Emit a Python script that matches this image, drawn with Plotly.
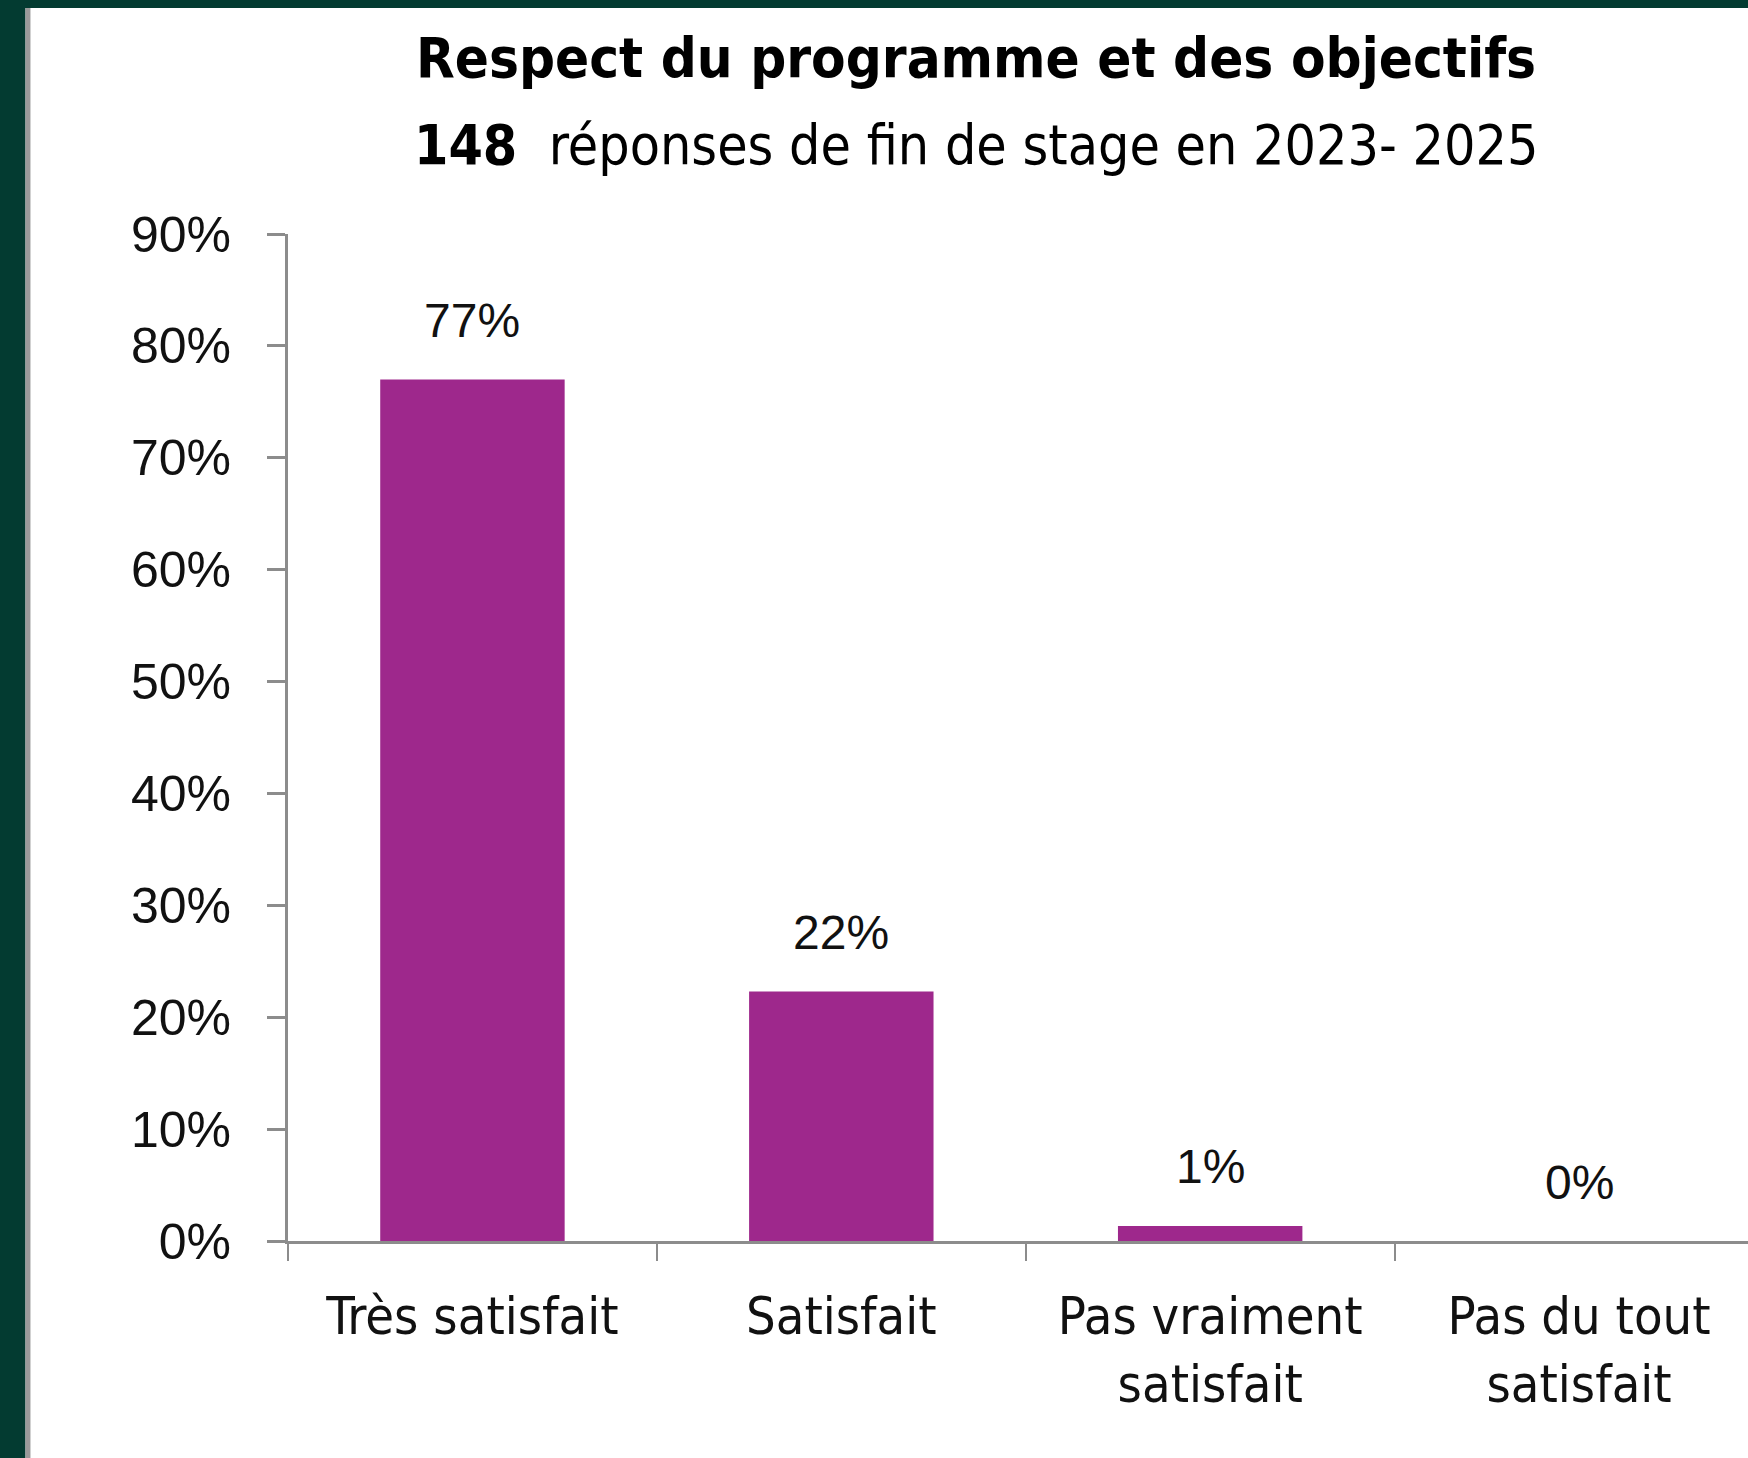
import plotly.graph_objects as go

# data
categories = ['Très satisfait', 'Satisfait', 'Pas vraiment<br>satisfait', 'Pas du tout<br>satisfait']
shares = [0.77, 0.223, 0.0135, 0.0]
share_labels = ['77%', '22%', '1%', '0%']
y_ticks = [0, 0.1, 0.2, 0.3, 0.4, 0.5, 0.6, 0.7, 0.8, 0.9]
y_tick_labels = ['0%', '10%', '20%', '30%', '40%', '50%', '60%', '70%', '80%', '90%']

title_main = 'Respect du programme et des objectifs'
title_sub = '<b>148</b>  réponses de fin de stage en 2023- 2025'

bar_color = '#9E288C'
axis_grey = '#8C8C8C'
frame_green = '#033B31'
narrow = 'Liberation Sans Narrow, DejaVu Sans Condensed, Arial Narrow, sans-serif'
arial = 'Liberation Sans, Arial, sans-serif'

fig = go.Figure()

fig.add_trace(go.Bar(x=categories, y=shares, marker_color=bar_color, width=0.5,
                     marker_line_width=0, hoverinfo='skip'))

# value labels above each bar
for cat, val, lab in zip(categories, shares, share_labels):
    fig.add_annotation(x=cat, y=val, text=lab, showarrow=False, yanchor='middle', yshift=59,
                       font=dict(family=arial, size=48, color='#111111'))

# titles
fig.add_annotation(xref='paper', yref='paper', x=0.4714, y=1.175, text='<b>' + title_main + '</b>',
                   showarrow=False, xanchor='center', yanchor='middle',
                   font=dict(family=narrow, size=56, color='#000000'))
fig.add_annotation(xref='paper', yref='paper', x=0.4714, y=1.088, text=title_sub,
                   showarrow=False, xanchor='center', yanchor='middle',
                   font=dict(family=narrow, size=55, color='#000000'))

# dark frame on the left and top edges of the slide
fig.add_shape(type='rect', xref='paper', yref='paper', x0=-0.25, x1=-0.1798, y0=-0.3, y1=1.3,
              fillcolor=frame_green, line_width=0, layer='above')
fig.add_shape(type='rect', xref='paper', yref='paper', x0=-0.1798, x1=-0.1764, y0=-0.3, y1=1.2244,
              fillcolor='#9A9A9A', line_width=0, layer='above')
fig.add_shape(type='rect', xref='paper', yref='paper', x0=-0.25, x1=1.05, y0=1.2244, y1=1.3,
              fillcolor=frame_green, line_width=0, layer='above')

fig.update_layout(
    width=1748, height=1458,
    margin=dict(l=288, r=0, t=234, b=217),
    paper_bgcolor='white', plot_bgcolor='white',
    showlegend=False,
    bargap=0.5,
)

fig.update_xaxes(range=[-0.5, 3.458], showline=True, linecolor=axis_grey, linewidth=3,
                 ticks='outside', tickson='boundaries', ticklen=17, tickwidth=2, tickcolor=axis_grey,
                 showgrid=False, tickfont=dict(family=narrow, size=52, color='#111111'),
                 ticklabelstandoff=28)
fig.update_yaxes(range=[0, 0.9], tickvals=y_ticks, ticktext=y_tick_labels, showline=True,
                 linecolor=axis_grey, linewidth=3, ticks='outside', ticklen=18, tickwidth=3,
                 tickcolor=axis_grey, showgrid=False, zeroline=False,
                 tickfont=dict(family=arial, size=50, color='#111111'), ticklabelstandoff=26)

fig.write_html('out.html', config={'displayModeBar': False},
               post_script="document.body.style.margin='0';")
